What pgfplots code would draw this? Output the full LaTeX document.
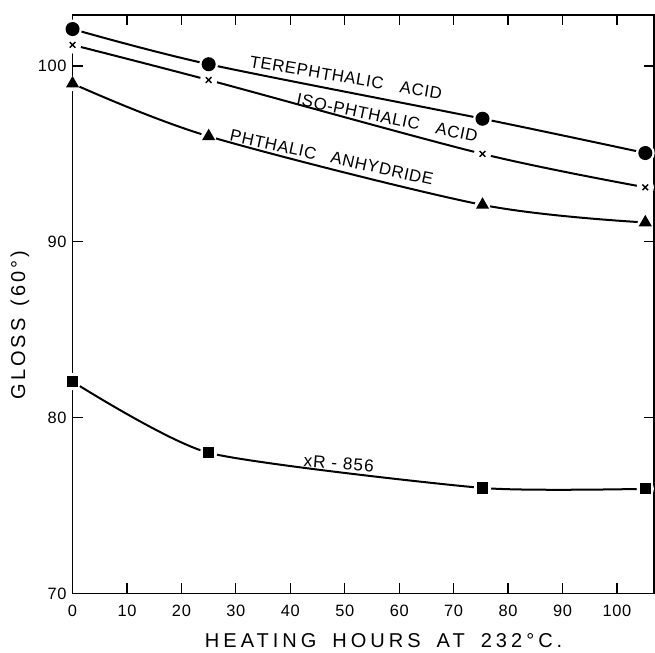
\documentclass[border=0pt]{standalone}
\usepackage{pgfplots}
\pgfplotsset{compat=1.18}
\usepackage{fontspec}
\setmainfont{Liberation Sans}
\newfontfamily\lbl[LetterSpace=4]{Liberation Sans}
\begin{document}
\begin{tikzpicture}
\begin{axis}[
  scale only axis,
  width=290.5pt, height=289pt,
  xmin=0, xmax=106.8, ymin=70, ymax=102.9,
  xtick={0,10,...,100}, ytick={70,80,90,100},
  tick align=inside, major tick length=5pt,
  tick style={line width=0.6pt, black},
  axis line style={line width=0.7pt},
  axis on top, clip=false,
  tick label style={font=\fontsize{8.2}{9}\selectfont\addfontfeatures{LetterSpace=4}},
  xticklabel style={yshift=-2.5pt},
  yticklabel style={xshift=0.5pt},
  /pgf/number format/assume math mode=true,
  xlabel={\fontsize{10}{12}\selectfont\addfontfeatures{LetterSpace=20}HEATING\hspace{0.8em}HOURS\hspace{0.8em}AT\hspace{0.8em}232°C.},
  ylabel={\fontsize{10}{12}\selectfont\addfontfeatures{LetterSpace=15}GLOSS\hspace{0.6em}(60°)},
  xlabel style={at={(axis description cs:0.535,-0.0934)}, anchor=base},
  ylabel style={at={(axis description cs:-0.0904,0.4637)}, anchor=center},
  every axis plot/.append style={line width=1pt, black},
]
% Terephthalic acid
\addplot[smooth, tension=0.5] coordinates {(0,102.1) (25,100.1) (75.3,97.0) (105.2,95.05)};
% Iso-phthalic acid
\addplot[smooth, tension=0.5] coordinates {(0,101.2) (25,99.2) (75.3,95.0) (105.2,93.1)};
% Phthalic anhydride
\addplot[smooth, tension=0.5] coordinates {(0,99.0) (25,96.0) (75.3,92.1) (105.2,91.1)};
% XR-856
\addplot[smooth, tension=0.35] coordinates {(0,82.05) (25,78.0) (75.3,76.0) (105.2,75.95)};
% white halos
\addplot[only marks, mark=*, mark size=4.2pt, white, mark options={draw=white, fill=white}] coordinates {(0,102.1) (25,100.1) (75.3,97.0) (105.2,95.05)};
\addplot[only marks, mark=*, mark size=3.8pt, white, mark options={draw=white, fill=white}] coordinates {(0,101.2) (25,99.2) (75.3,95.0) (105.2,93.1)};
\addplot[only marks, mark=*, mark size=3.3pt, white, mark options={draw=white, fill=white}] coordinates {(0,99.0) (25,96.0) (75.3,92.1) (105.2,91.1)};
\addplot[only marks, mark=*, mark size=3.8pt, white, mark options={draw=white, fill=white}] coordinates {(0,82.05) (25,78.0) (75.3,76.0) (105.2,75.95)};
% markers
\addplot[only marks, mark=*, mark size=3pt, mark options={fill=black}] coordinates {(0,102.1) (25,100.1) (75.3,97.0) (105.2,95.05)};
\addplot[only marks, mark=x, mark size=2pt, mark options={line width=0.7pt}] coordinates {(0,101.2) (25,99.2) (75.3,95.0) (105.2,93.1)};
\addplot[only marks, mark=triangle*, mark size=2.8pt, mark options={fill=black}] coordinates {(0,99.0) (25,96.0) (75.3,92.1) (105.2,91.1)};
\addplot[only marks, mark=square*, mark size=2.3pt, mark options={fill=black}] coordinates {(0,82.05) (25,78.0) (75.3,76.0) (105.2,75.95)};
% curve labels
\node[inner sep=0pt, rotate=-9.5, font=\fontsize{8.4}{10}\selectfont\lbl] at (axis cs:50.2,99.35) {TEREPHTHALIC\hspace{1em}ACID};
\node[inner sep=0pt, rotate=-11.8, font=\fontsize{8.4}{10}\selectfont\lbl] at (axis cs:57.8,97.05) {ISO-PHTHALIC\hspace{1em}ACID};
\node[inner sep=0pt, rotate=-12.4, font=\fontsize{8.4}{10}\selectfont\lbl] at (axis cs:47.6,94.8) {PHTHALIC\hspace{0.9em}ANHYDRIDE};
\node[inner sep=0pt, rotate=-4, font=\fontsize{8.6}{10}\selectfont\addfontfeatures{LetterSpace=6}] at (axis cs:48.9,77.4) {xR - 856};
% bounding box corners
\path (rel axis cs:0,0) ++(-36.25pt,-29.5pt) coordinate (bbsw);
\path (rel axis cs:1,1) ++(0.5pt,7.5pt) coordinate (bbne);
\end{axis}
\pgfresetboundingbox
\path[use as bounding box] (bbsw) rectangle (bbne);
\end{tikzpicture}
\end{document}
